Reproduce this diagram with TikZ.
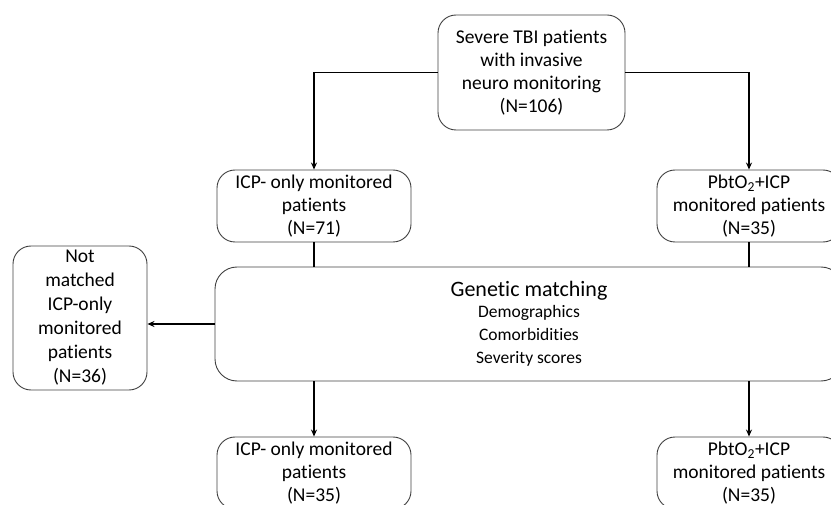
\documentclass[tikz,border=0pt]{standalone}
\usepackage{fontspec}
\setmainfont{Carlito}[Ligatures=NoCommon]
\usetikzlibrary{arrows.meta}
\tikzset{
    box/.style = {draw=black!75, line width=0.9pt, rounded corners=18pt, align=center,
        font=\fontsize{19.5}{23}\selectfont, inner sep=0pt},
    flow/.style = {line width=1.4pt, -{Stealth[length=7pt,width=6pt]}},
    link/.style = {line width=1.4pt}
}
\begin{document}
\begin{tikzpicture}[x=1pt, y=-1pt]
    \useasboundingbox (0,0) rectangle (831,505); % size of the original picture
    \clip (0,0) rectangle (831,505);

    \node [box, minimum width=187pt, minimum height=115pt] (all) at (531.5,72.5)
        {Severe TBI patients\\with invasive\\neuro monitoring\\(N=106)};
    \node [box, minimum width=194pt, minimum height=72pt] (icpA) at (314,206)
        {ICP- only monitored\\patients\\(N=71)};
    \node [box, minimum width=184pt, minimum height=72pt] (pbtA) at (749,206)
        {PbtO\textsubscript{2}+ICP\\monitored patients\\(N=35)};
    \node [box, minimum width=628pt, minimum height=114pt, rounded corners=22pt] (match) at (529,324)
        {{\fontsize{22}{25}\selectfont Genetic matching}\\[-2pt]
         {\fontsize{17.5}{20}\selectfont Demographics}\\
         {\fontsize{17.5}{20}\selectfont Comorbidities}\\
         {\fontsize{17.5}{20}\selectfont Severity scores}};
    \node [box, minimum width=134pt, minimum height=144pt, font=\fontsize{19.5}{24}\selectfont] (rest) at (80,318)
        {Not\\matched\\ICP-only\\monitored\\patients\\(N=36)};
    \node [box, minimum width=194pt, minimum height=72pt] (icpB) at (314,473)
        {ICP- only monitored\\patients\\(N=35)};
    \node [box, minimum width=184pt, minimum height=72pt] (pbtB) at (749,473)
        {PbtO\textsubscript{2}+ICP\\monitored patients\\(N=35)};

    % split of the cohort
    \draw [flow] (all.west) -| (icpA.north);
    \draw [flow] (all.east) -| (pbtA.north);
    \foreach \g in {icpA, pbtA} {
        \draw [link] (\g.south) -- (\g.south |- match.north);
    }
    \draw [flow] (match.west) -- (match.west -| rest.east);
    \draw [flow] (match.south -| icpB.north) -- (icpB.north);
    \draw [flow] (match.south -| pbtB.north) -- (pbtB.north);
\end{tikzpicture}
\end{document}
